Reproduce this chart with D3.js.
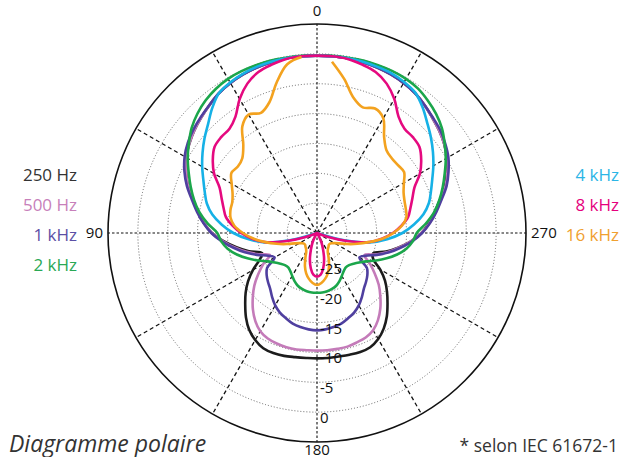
<!DOCTYPE html>
<html>
<head>
<meta charset="utf-8">
<script src="https://cdn.jsdelivr.net/npm/d3@7"></script>
<style>
body { margin: 0; background: #fff; }
svg { display: block; font-family: "Open Sans", "Noto Sans", sans-serif; }
.legend { font-size: 17px; }
.axis-label { font-size: 15px; fill: #111; }
.ring-label { font-size: 15px; fill: #111; }
</style>
</head>
<body>
<div id="polar"></div>
<script>
// angles in degrees, counter-clockwise from the top (90 = left, 270 = right)
const angles = [0,5,10,15,20,25,30,35,40,45,50,55,60,65,70,75,80,85,90,95,100,105,110,115,
  120,125,130,135,140,145,150,155,160,165,170,175,180,185,190,195,200,205,210,215,220,225,230,235,
  240,245,250,255,260,265,270,275,280,285,290,295,300,305,310,315,320,325,330,335,340,345,350,355];

// level in dB for each angle (-30 = centre of the plot)
const hz250 = [-0.3,-0.3,-0.3,-0.4,-0.5,-0.7,-1.0,-1.4,-2.0,-2.6,-3.2,-3.9,-4.7,-5.8,-7.0,-8.5,-9.8,-11.0,
  -12.4,-14.3,-16.3,-18.2,-20.2,-19.4,-17.6,-15.9,-14.4,-13.0,-11.5,-10.2,-9.3,-8.7,-8.6,-8.7,-8.9,-9.0,
  -9.0,-9.0,-9.0,-8.9,-8.8,-8.9,-9.5,-10.5,-11.8,-13.3,-14.7,-16.1,-17.8,-19.6,-20.0,-18.0,-16.1,-14.2,
  -12.5,-11.2,-10.0,-8.7,-7.2,-6.0,-4.9,-4.0,-3.3,-2.7,-2.0,-1.4,-1.0,-0.7,-0.5,-0.4,-0.3,-0.3];
const hz500 = [-0.3,-0.3,-0.3,-0.4,-0.5,-0.7,-1.0,-1.4,-2.0,-2.6,-3.2,-3.9,-4.7,-5.8,-7.0,-8.5,-9.8,-11.0,
  -12.4,-14.2,-16.0,-17.8,-19.6,-21.3,-19.6,-18.0,-16.3,-14.8,-13.3,-12.0,-11.0,-10.5,-10.3,-10.2,-10.2,-10.3,
  -10.3,-10.3,-10.3,-10.3,-10.5,-10.7,-11.2,-12.2,-13.5,-15.0,-16.5,-18.2,-19.8,-21.2,-19.5,-17.7,-16.0,-14.2,
  -12.5,-11.1,-9.9,-8.6,-7.1,-5.9,-4.8,-4.0,-3.3,-2.7,-2.0,-1.4,-1.0,-0.7,-0.5,-0.4,-0.3,-0.3];
const khz1 = [-0.3,-0.3,-0.3,-0.4,-0.5,-0.7,-1.0,-1.4,-2.0,-2.5,-3.0,-3.6,-4.4,-5.5,-6.8,-8.3,-9.6,-10.9,
  -12.3,-14.0,-15.8,-17.5,-19.3,-21.0,-21.8,-19.8,-19.0,-18.4,-17.8,-16.9,-16.0,-15.3,-14.8,-14.3,-14.0,-13.8,
  -13.7,-13.8,-14.0,-14.3,-14.8,-15.3,-16.0,-16.9,-17.8,-18.4,-19.0,-19.8,-21.8,-21.0,-19.3,-17.5,-15.8,-14.0,
  -12.4,-11.0,-9.7,-8.4,-6.9,-5.7,-4.6,-3.8,-3.1,-2.6,-2.0,-1.4,-1.0,-0.7,-0.5,-0.4,-0.3,-0.3];
const khz2 = [-0.3,-0.2,-0.2,-0.1,-0.1,-0.1,-0.2,-0.5,-1.0,-1.7,-2.6,-3.8,-5.0,-6.3,-7.5,-8.7,-10.0,-11.6,
  -13.3,-13.9,-14.8,-16.1,-17.6,-19.1,-20.5,-21.4,-22.0,-22.4,-22.5,-22.2,-21.7,-21.1,-20.6,-20.3,-20.1,-20.0,
  -20.0,-20.0,-20.1,-20.3,-20.6,-21.1,-21.7,-22.2,-22.5,-22.4,-22.0,-21.4,-20.5,-19.1,-17.6,-16.1,-14.8,-13.9,
  -13.3,-11.7,-10.1,-8.8,-7.6,-6.4,-5.1,-3.9,-2.7,-1.8,-1.1,-0.5,-0.2,-0.1,-0.1,-0.1,-0.2,-0.2];
const khz4 = [-0.3,-0.3,-0.3,-0.3,-0.4,-0.6,-0.9,-1.4,-2.7,-4.2,-5.4,-6.6,-7.8,-9.0,-10.0,-10.9,-12.2,-14.0,
  -16.0,-18.4,-21.0,-25.5,-30,-30,-30,-30,-30,-30,-30,-30,-30,-30,-30,-30,-30,-30,
  -30,-30,-30,-30,-30,-30,-30,-30,-30,-30,-30,-30,-30,-30,-30,-25.5,-21.0,-18.2,
  -15.7,-13.7,-11.9,-10.6,-9.7,-8.7,-7.5,-6.3,-5.1,-3.9,-2.5,-1.3,-0.8,-0.5,-0.4,-0.3,-0.3,-0.3];
const khz8 = [-0.3,-0.3,-0.4,-0.8,-1.3,-2.4,-4.1,-6.2,-7.2,-7.3,-7.6,-8.7,-10.1,-12.0,-13.0,-13.8,-14.5,-15.8,
  -17.3,-19.1,-21.2,-24.8,-28.0,-30,-30,-30,-30,-30,-30,-30,-29.3,-28.2,-27.0,-25.4,-24.0,-23.0,
  -22.7,-23.0,-24.0,-25.4,-27.0,-28.2,-29.3,-30,-30,-30,-30,-30,-30,-30,-28.0,-24.8,-21.2,-19.1,
  -17.3,-15.8,-14.5,-13.8,-13.0,-12.0,-10.1,-8.7,-7.6,-7.3,-7.2,-6.2,-4.1,-2.4,-1.3,-0.8,-0.4,-0.3];
const khz16 = [-0.3,-0.4,-1.3,-3.9,-6.7,-7.8,-7.1,-8.2,-10.8,-12.3,-12.7,-12.5,-13.5,-14.4,-14.9,-15.0,-15.3,-16.1,
  -17.6,-19.3,-21.2,-23.0,-24.6,-25.9,-26.6,-27.0,-27.2,-27.2,-27.0,-26.8,-26.4,-25.4,-24.1,-23.0,-22.2,-21.6,
  -21.3,-21.6,-22.2,-23.0,-24.1,-25.4,-26.4,-26.8,-27.0,-27.2,-27.2,-27.0,-26.6,-25.9,-24.6,-23.0,-21.2,-19.0,
  -17.2,-15.7,-14.8,-14.6,-14.4,-14.0,-13.2,-12.2,-12.3,-12.3,-11.9,-10.4,-7.8,-7.0,-7.6,-6.5,-3.8,-1.2,-0.4];

const seriesNames = ["250 Hz", "500 Hz", "1 kHz", "2 kHz", "4 kHz", "8 kHz", "16 kHz"];
const seriesValues = [hz250, hz500, khz1, khz2, khz4, khz8, khz16];
const seriesColors = ["#1c1c1c", "#c47bb9", "#4f3f9f", "#1ba64b", "#16b1e6", "#e5097f", "#f3a21f"];
const labelColors = ["#333333", "#c77fba", "#5b4fa5", "#2aa855", "#2bb5e6", "#e5007d", "#f0a030"];

const ringValues = [-25, -20, -15, -10, -5, 0];
const ringLabels = ["-25", "-20", "-15", "-10", "-5", "0"];
const spokeAngles = [0, 30, 60, 90, 120, 150, 180, 210, 240, 270, 300, 330];
const axisAngles = [0, 90, 180, 270];
const axisLabels = ["0", "90", "180", "270"];

const width = 621, height = 457;
const cx = 317, cy = 233, R = 209;

const svg = d3.select("#polar")
  .append("svg")
  .attr("width", width)
  .attr("height", height);

const r = d3.scaleLinear().domain([-30, 5]).range([0, R]).clamp(true);
// counter-clockwise from the top
const a = d3.scaleLinear().domain([0, 360]).range([0, -2 * Math.PI]);

const g = svg.append("g").attr("transform", `translate(${cx},${cy})`);

// dotted rings
g.selectAll(".ring")
  .data(ringValues)
  .join("circle")
  .attr("class", "ring")
  .attr("r", d => r(d))
  .attr("fill", "none")
  .attr("stroke", "#555")
  .attr("stroke-width", 0.9)
  .attr("stroke-dasharray", "1,2");

// spokes
g.selectAll(".spoke")
  .data(spokeAngles)
  .join("line")
  .attr("class", "spoke")
  .attr("x1", 0).attr("y1", 0)
  .attr("x2", d => R * Math.sin(a(d)))
  .attr("y2", d => -R * Math.cos(a(d)))
  .attr("stroke", "#111")
  .attr("stroke-width", d => d % 90 === 0 ? 1.1 : 1.3)
  .attr("stroke-dasharray", d => d % 90 === 0 ? "2.5,2" : "4,3");

// outer circle
g.append("circle")
  .attr("r", R)
  .attr("fill", "none")
  .attr("stroke", "#111")
  .attr("stroke-width", 1.6);

// response curves
const line = d3.lineRadial()
  .angle((d, i) => a(angles[i]))
  .radius(d => r(d))
  .curve(d3.curveCatmullRomClosed.alpha(0.5));

g.selectAll(".curve")
  .data(seriesValues)
  .join("path")
  .attr("class", "curve")
  .attr("d", d => line(d))
  .attr("fill", "none")
  .attr("stroke", (d, i) => seriesColors[i])
  .attr("stroke-width", 2.6)
  .attr("stroke-linejoin", "round");

// dB labels along the 180 axis
g.selectAll(".ring-label")
  .data(ringValues)
  .join("text")
  .attr("class", "ring-label")
  .attr("x", 3)
  .attr("y", d => r(d) + 11)
  .text((d, i) => ringLabels[i]);

// angle labels
const axisPos = [
  {x: 0, y: -R - 8, anchor: "middle"},
  {x: -R - 5, y: 5, anchor: "end"},
  {x: 0, y: R + 13, anchor: "middle"},
  {x: R + 5, y: 5, anchor: "start"}
];
g.selectAll(".axis-label")
  .data(axisAngles)
  .join("text")
  .attr("class", "axis-label")
  .attr("x", (d, i) => axisPos[i].x)
  .attr("y", (d, i) => axisPos[i].y)
  .attr("text-anchor", (d, i) => axisPos[i].anchor)
  .text((d, i) => axisLabels[i]);

// legends
svg.selectAll(".legend-left")
  .data(seriesNames.slice(0, 4))
  .join("text")
  .attr("class", "legend")
  .attr("x", 77)
  .attr("y", (d, i) => 181 + i * 30)
  .attr("text-anchor", "end")
  .attr("fill", (d, i) => labelColors[i])
  .text(d => d);

svg.selectAll(".legend-right")
  .data(seriesNames.slice(4))
  .join("text")
  .attr("class", "legend")
  .attr("x", 619)
  .attr("y", (d, i) => 181 + i * 30)
  .attr("text-anchor", "end")
  .attr("fill", (d, i) => labelColors[i + 4])
  .text(d => d);

// footer
svg.append("text")
  .attr("x", 9)
  .attr("y", 452)
  .attr("font-size", 23)
  .attr("font-style", "italic")
  .attr("fill", "#333")
  .text("Diagramme polaire");

svg.append("text")
  .attr("x", 618)
  .attr("y", 452)
  .attr("font-size", 17.5)
  .attr("text-anchor", "end")
  .attr("fill", "#333")
  .text("* selon IEC 61672-1");
</script>
</body>
</html>
